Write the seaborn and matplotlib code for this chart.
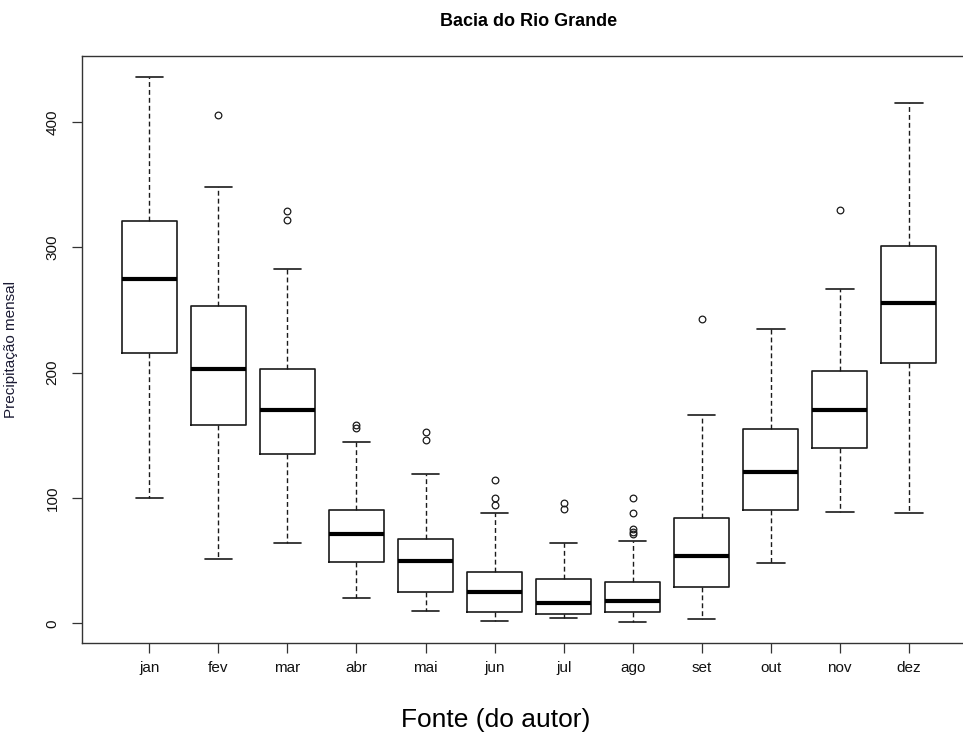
import matplotlib
matplotlib.use("Agg")
import matplotlib.pyplot as plt
import seaborn as sns

# ==========================================
# DATA
# ==========================================
months = ["jan", "fev", "mar", "abr", "mai", "jun",
          "jul", "ago", "set", "out", "nov", "dez"]
whisker_low = [100, 51, 64, 20, 10, 2, 4, 1, 3, 48, 89, 88]
q1 = [216, 158, 135, 49, 25, 9, 7, 9, 29, 90, 140, 208]
median = [275, 203, 170, 71, 50, 25, 16, 18, 54, 121, 170, 256]
q3 = [321, 253, 203, 90, 67, 41, 35, 33, 84, 155, 201, 301]
whisker_high = [436, 348, 283, 145, 119, 88, 64, 66, 166, 235, 267, 415]
outliers = [[], [406], [322, 329], [156, 158], [146, 153], [94, 100, 114],
            [91, 96], [71, 73, 75, 88, 100], [243], [], [330], []]

y_ticks = [0, 100, 200, 300, 400]

# ==========================================
# STYLE
# ==========================================
sns.set_style("white")
plt.rcParams["font.family"] = ["Liberation Sans", "DejaVu Sans"]
plt.rcParams["text.color"] = "black"

stats = []
for i, m in enumerate(months):
    stats.append(dict(label=m, whislo=whisker_low[i], q1=q1[i], med=median[i],
                      q3=q3[i], whishi=whisker_high[i], fliers=outliers[i]))

fig = plt.figure(figsize=(9.63, 7.36), dpi=100)
ax = fig.add_axes([0.0848, 0.1268, 0.9292, 0.7975])

line_col = "#1a1a1a"
ax.bxp(stats, positions=range(1, len(months) + 1), widths=0.8, capwidths=0.4,
       patch_artist=False,
       boxprops=dict(color=line_col, linewidth=1.2),
       medianprops=dict(color="black", linewidth=3.0, solid_capstyle="butt"),
       whiskerprops=dict(color=line_col, linewidth=1.0, linestyle=(0, (3.5, 2.2))),
       capprops=dict(color=line_col, linewidth=1.2),
       flierprops=dict(marker="o", markersize=4.8, markerfacecolor="none",
                       markeredgecolor=line_col, markeredgewidth=0.9))

ax.set_xlim(0.02, 12.98)
ax.set_ylim(-15.5, 453)
ax.set_xticks(range(1, len(months) + 1))
ax.set_xticklabels(months, fontsize=11, color="#111111")
ax.set_yticks(y_ticks)
ax.set_yticklabels([str(v) for v in y_ticks], fontsize=11, rotation=90,
                   va="center", color="#111111")
ax.tick_params(axis="x", direction="out", length=7, width=0.9, pad=6,
               bottom=True, color="#333333")
ax.tick_params(axis="y", direction="out", length=7, width=0.9, pad=9,
               left=True, color="#333333")

for sp in ax.spines.values():
    sp.set_visible(True)
    sp.set_color("#333333")
    sp.set_linewidth(1.0)

ax.set_ylabel("Precipitação mensal", fontsize=11, color="#1a1a33")
ax.yaxis.set_label_coords(-0.0709, 0.5)

fig.text(0.5493, 0.9647, "Bacia do Rio Grande", fontsize=13,
         fontweight="bold", ha="center", va="baseline", color="black")
fig.text(0.5148, 1 - 720 / 736, "Fonte (do autor)", fontsize=19,
         ha="center", va="center", color="black")

fig.savefig("out.png", dpi=100)
plt.close(fig)
